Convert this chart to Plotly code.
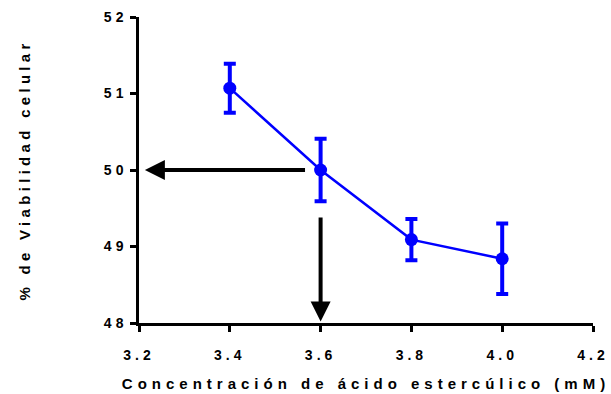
import plotly.graph_objects as go

# Cell viability vs. sterculic acid concentration (mean ± SD)
concentracion = [3.4, 3.6, 3.8, 4.0]
viabilidad = [51.07, 50.00, 49.09, 48.84]
desviacion = [0.32, 0.41, 0.27, 0.46]

x_ticks = [3.2, 3.4, 3.6, 3.8, 4.0, 4.2]
y_ticks = [48, 49, 50, 51, 52]

# IC50 read-out: concentration giving 50 % viability
ic50_x = 3.6
ic50_y = 50.0

x_title = "Concentración de ácido estercúlico (mM)"
y_title = "% de Viabilidad celular"

BLUE = "#0000FF"
FONT = "Liberation Sans, Arial, Helvetica, sans-serif"

fig = go.Figure()
fig.add_trace(go.Scatter(
    x=concentracion,
    y=viabilidad,
    mode="lines+markers",
    line=dict(color=BLUE, width=2.5),
    marker=dict(color=BLUE, size=13),
    error_y=dict(type="data", array=desviacion, visible=True,
                 color=BLUE, thickness=4, width=6),
    cliponaxis=False,
    showlegend=False,
))

# Arrows pointing from the IC50 point to each axis
fig.add_annotation(
    x=x_ticks[0] + 0.013, y=ic50_y, ax=ic50_x - 0.031, ay=ic50_y,
    xref="x", yref="y", axref="x", ayref="y",
    text="", showarrow=True, arrowhead=2, arrowsize=1.0,
    arrowwidth=4, arrowcolor="black", standoff=0,
)
fig.add_annotation(
    x=ic50_x, y=y_ticks[0] + 0.02, ax=ic50_x, ay=ic50_y - 0.6,
    xref="x", yref="y", axref="x", ayref="y",
    text="", showarrow=True, arrowhead=2, arrowsize=1.0,
    arrowwidth=4, arrowcolor="black", standoff=0,
)

axis_common = dict(
    showline=True, linecolor="black", linewidth=2.5,
    ticks="outside", ticklen=6, tickwidth=2.5, tickcolor="black",
    showgrid=False, zeroline=False, automargin=False,
    tickfont=dict(family=FONT, size=14, color="black", weight="bold"),
)

fig.update_layout(
    width=611, height=394,
    margin=dict(l=139, r=18, t=17, b=71),
    paper_bgcolor="white", plot_bgcolor="white",
    font=dict(family=FONT, color="black"),
    xaxis=dict(
        range=[x_ticks[0], x_ticks[-1]],
        tickvals=x_ticks, ticktext=[f"{v:.1f}" for v in x_ticks],
        ticklabelstandoff=11,
        title=dict(text=x_title, standoff=17,
                   font=dict(family=FONT, size=15, color="black", weight="bold")),
        **axis_common,
    ),
    yaxis=dict(
        range=[y_ticks[0], y_ticks[-1]],
        tickvals=y_ticks, ticktext=[str(v) for v in y_ticks],
        title=dict(text=y_title, standoff=78,
                   font=dict(family=FONT, size=15, color="black", weight="bold")),
        **axis_common,
    ),
)

# Wide letter spacing on axis texts
css = ("body{margin:0}"
       ".xtitle{letter-spacing:5px}"
       ".ytitle{letter-spacing:4.3px}"
       ".xtick text,.ytick text{letter-spacing:4px}")
post = ("var s=document.createElement('style');s.textContent='" + css +
        "';document.head.appendChild(s);")

fig.write_html("out.html", post_script=post)
